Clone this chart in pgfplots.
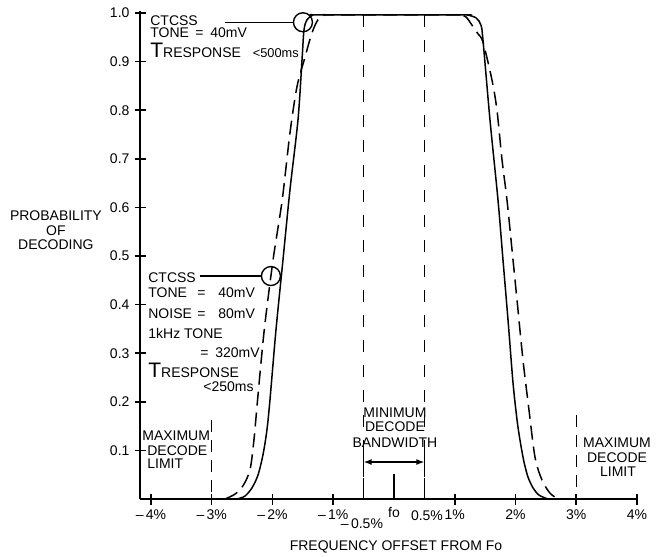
\documentclass[border=0pt]{standalone}
\usepackage{fontspec}
\setmainfont{Liberation Sans}
\usepackage{pgfplots}
\pgfplotsset{compat=1.18}
\usetikzlibrary{arrows.meta}

\newcommand\bigT{{\fontsize{10.5}{11}\selectfont T}}

\begin{document}
\fontsize{7}{8}\selectfont
\begin{tikzpicture}
\path[use as bounding box] (-70pt,-28.5pt) rectangle (263.5pt,249.5pt);
\begin{axis}[
  at={(0pt,0pt)}, anchor=south west,
  scale only axis, width=248.5pt, height=244.2pt,
  xmin=-4.18, xmax=4, ymin=0, ymax=1.005,
  axis lines=left, axis line style={-, line width=1pt},
  clip=false,
  xtick={-4,-3,-2,-1,1,2,3,4},
  xticklabels={–\,4\%,–\,3\%,–\,2\%,–\,1\%,1\%,2\%,3\%,4\%},
  ytick={0.1,0.2,0.3,0.4,0.5,0.6,0.7,0.8,0.9,1.0},
  yticklabel style={/pgf/number format/.cd, fixed, fixed zerofill, precision=1, assume math mode=true},
  tick align=center, major tick length=5.5pt,
  tick style={line width=0.8pt, black},
]
% T response < 250 ms
\addplot[black, line width=0.75pt, smooth, tension=0.5] coordinates {
  (-2.584,0) (-2.453,0.006) (-2.337,0.023) (-2.239,0.049) (-2.156,0.091)
  (-2.091,0.142) (-2.041,0.204) (-1.942,0.348) (-1.827,0.492) (-1.712,0.636)
  (-1.580,0.780) (-1.514,0.903) (-1.481,0.965) (-1.432,0.986) (-1.333,0.996)
  (-1.2,0.996) (1.05,0.996)
  (1.202,0.996) (1.350,0.990) (1.432,0.975) (1.465,0.944) (1.580,0.780)
  (1.712,0.615) (1.794,0.492) (1.877,0.368) (1.959,0.239) (2.025,0.163)
  (2.074,0.121) (2.140,0.076) (2.206,0.045) (2.288,0.023) (2.387,0.008) (2.535,0)
};
% T response < 500 ms
\addplot[black, line width=0.75pt, smooth, tension=0.5, dash pattern=on 7pt off 3.5pt] coordinates {
  (-2.782,0) (-2.617,0.010) (-2.486,0.027) (-2.370,0.060) (-2.305,0.121)
  (-2.245,0.204) (-2.135,0.348) (-1.990,0.492) (-1.840,0.615) (-1.712,0.753)
  (-1.597,0.848) (-1.465,0.909) (-1.350,0.959) (-1.251,0.986) (-1.136,0.996)
  (-1.0,0.996) (0.95,0.996)
  (1.086,0.996) (1.185,0.992) (1.284,0.975) (1.383,0.957) (1.465,0.940)
  (1.613,0.862) (1.695,0.800) (1.778,0.698) (1.860,0.615) (1.959,0.492)
  (2.041,0.389) (2.123,0.286) (2.222,0.183) (2.321,0.086) (2.436,0.039)
  (2.568,0.012) (2.700,0)
};

% limits and bandwidth lines
\draw[line width=0.7pt, dash pattern=on 6pt off 6.5pt] (axis cs:-0.5,0.996) -- (axis cs:-0.5,0);
\draw[line width=0.7pt, dash pattern=on 6pt off 6.5pt] (axis cs:0.5,0.996) -- (axis cs:0.5,0);
\draw[line width=0.7pt] (axis cs:-0.5,0) -- (axis cs:-0.5,0.043) (axis cs:0.5,0) -- (axis cs:0.5,0.043);
\draw[line width=0.7pt] (axis cs:-0.5,0.066) -- (axis cs:-0.5,0.105) (axis cs:0.5,0.066) -- (axis cs:0.5,0.105);
\draw[line width=0.8pt] (axis cs:0,0) -- (axis cs:0,0.0514);
\draw[line width=0.7pt, dash pattern=on 6pt off 4pt] (axis cs:-3,0.1626) -- (axis cs:-3,0);
\draw[line width=0.7pt, dash pattern=on 6pt off 4pt] (axis cs:3,0.1728) -- (axis cs:3,0);
\draw[line width=0.7pt, {Latex[length=4pt]}-{Latex[length=4pt]}] (axis cs:-0.5,0.0761) -- (axis cs:0.5,0.0761);

% extra tick labels
\node[anchor=base] at (axis cs:-0.527,-0.0597) {–\,0.5\%};
\node[anchor=base] at (axis cs:0,-0.039) {fo};
\node[anchor=base] at (axis cs:0.543,-0.0432) {0.5\%};

% axis titles
\node[align=center, font=\fontsize{7}{7.25}\selectfont] at (axis cs:-5.564,0.5525) {PROBABILITY\\OF\\DECODING};
\node[anchor=base] at (axis cs:0.033,-0.105) {FREQUENCY OFFSET FROM Fo};

% top annotation
\node[anchor=base west, inner sep=0pt] at (axis cs:-4.016,0.975) {CTCSS};
\node[anchor=base west, inner sep=0pt] at (axis cs:-4.016,0.949) {TONE};
\node[anchor=base west, inner sep=0pt] at (axis cs:-3.276,0.949) {=};
\node[anchor=base west, inner sep=0pt] at (axis cs:-3.029,0.949) {40mV};
\node[anchor=base west, inner sep=0pt] at (axis cs:-4.016,0.909) {\bigT RESPONSE};
\node[anchor=base west, inner sep=0pt, font=\fontsize{6.4}{7}\selectfont] at (axis cs:-2.33,0.909) {<500ms};
\draw[line width=0.7pt] (axis cs:-2.782,0.981) -- (axis cs:-1.66,0.981);
\draw[line width=0.7pt] (axis cs:-1.498,0.981) circle[radius=4.75pt];

% lower annotation
\node[anchor=base west, inner sep=0pt] at (axis cs:-4.049,0.4465) {CTCSS};
\draw[line width=0.7pt] (axis cs:-3.193,0.4588) -- (axis cs:-2.18,0.4588);
\draw[line width=0.7pt] (axis cs:-2.025,0.4588) circle[radius=4.75pt];
\node[anchor=base west, inner sep=0pt] at (axis cs:-4.049,0.4156) {TONE};
\node[anchor=base west, inner sep=0pt] at (axis cs:-3.243,0.4156) {=};
\node[anchor=base west, inner sep=0pt] at (axis cs:-2.897,0.4156) {40mV};
\node[anchor=base west, inner sep=0pt] at (axis cs:-4.049,0.3724) {NOISE};
\node[anchor=base west, inner sep=0pt] at (axis cs:-3.243,0.3724) {=};
\node[anchor=base west, inner sep=0pt] at (axis cs:-2.897,0.3724) {80mV};
\node[anchor=base west, inner sep=0pt] at (axis cs:-4.049,0.3313) {1kHz TONE};
\node[anchor=base west, inner sep=0pt] at (axis cs:-3.193,0.2922) {=};
\node[anchor=base west, inner sep=0pt] at (axis cs:-2.947,0.2922) {320mV};
\node[anchor=base west, inner sep=0pt] at (axis cs:-4.049,0.2510) {\bigT RESPONSE};
\node[anchor=base west, inner sep=0pt] at (axis cs:-3.144,0.2202) {<250ms};

% limit labels
\node[anchor=base west, inner sep=0pt] at (axis cs:-4.148,0.1214) {MAXIMUM};
\node[anchor=base west, inner sep=0pt] at (axis cs:-4.066,0.0905) {DECODE};
\node[anchor=base west, inner sep=0pt] at (axis cs:-4.066,0.0638) {LIMIT};
\node[anchor=base, inner sep=0pt] at (axis cs:3.671,0.107) {MAXIMUM};
\node[anchor=base, inner sep=0pt] at (axis cs:3.671,0.0761) {DECODE};
\node[anchor=base, inner sep=0pt] at (axis cs:3.687,0.0473) {LIMIT};
\node[anchor=base, inner sep=0pt] at (axis cs:0.016,0.1687) {MINIMUM};
\node[anchor=base, inner sep=0pt] at (axis cs:0.016,0.1379) {DECODE};
\node[anchor=base, inner sep=0pt] at (axis cs:0.016,0.107) {BANDWIDTH};
\end{axis}
\end{tikzpicture}
\end{document}
